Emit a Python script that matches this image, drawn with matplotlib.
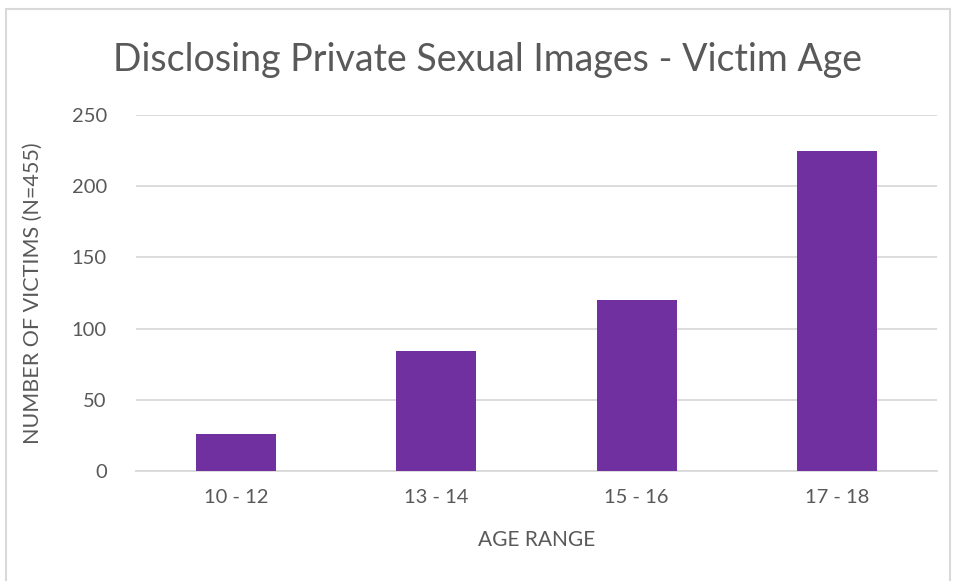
import matplotlib.pyplot as plt
from matplotlib.patches import Rectangle

plt.rcParams['font.family'] = ['Lato', 'DejaVu Sans']

age_ranges = ['10 - 12', '13 - 14', '15 - 16', '17 - 18']
victims = [26, 84, 120, 225]

text_color = '#595959'
bar_color = '#7030A0'
grid_color = '#D9D9D9'

fig = plt.figure(figsize=(9.55, 5.81), dpi=100)
ax = fig.add_axes([136 / 955, 1 - 471 / 581, 801 / 955, 356 / 581])

ax.bar(range(len(age_ranges)), victims, width=0.4, color=bar_color, zorder=3)

ax.set_xlim(-0.5, len(age_ranges) - 0.5)
ax.set_ylim(0, 250)
ax.set_yticks(range(0, 251, 50))
ax.set_xticks(range(len(age_ranges)))
ax.set_xticklabels(age_ranges)
ax.yaxis.grid(True, color=grid_color, linewidth=1.3, zorder=0)
ax.tick_params(axis='both', length=0, labelsize=14.5, colors=text_color)
ax.tick_params(axis='x', pad=13)
ax.tick_params(axis='y', pad=21)
for side in ['top', 'right', 'left']:
    ax.spines[side].set_visible(False)
ax.spines['bottom'].set_color(grid_color)
ax.spines['bottom'].set_linewidth(1.3)

fig.text(0.51, 1 - 60 / 581, 'Disclosing Private Sexual Images - Victim Age',
         ha='center', va='center', fontsize=27, color=text_color)
fig.text(33 / 955, 1 - 293 / 581, 'NUMBER OF VICTIMS (N=455)', rotation=90,
         ha='center', va='center', fontsize=15.5, color=text_color)
fig.text(537 / 955, 1 - 540 / 581, 'AGE RANGE',
         ha='center', va='center', fontsize=15, color=text_color)

# chart border
fig.patches.append(Rectangle((6 / 955, -0.05), 944 / 955, 1.05 - 9 / 581,
                             transform=fig.transFigure, fill=False,
                             edgecolor=grid_color, linewidth=1.5))

fig.savefig('out.png', dpi=100)
